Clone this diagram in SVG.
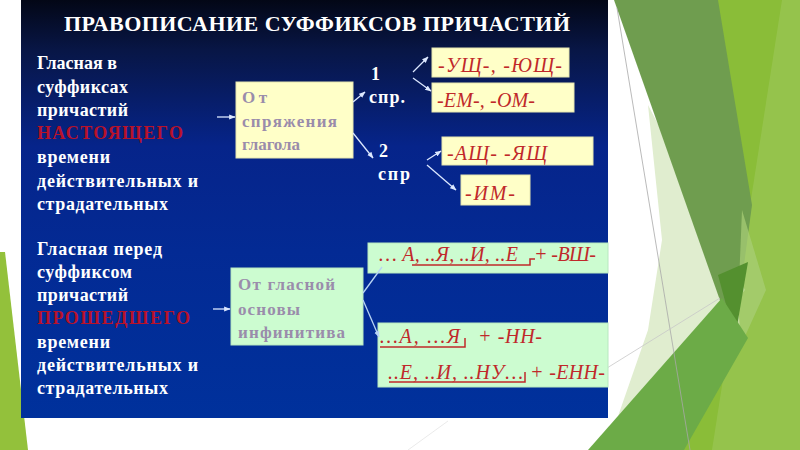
<svg xmlns="http://www.w3.org/2000/svg" width="800" height="450" viewBox="0 0 800 450">
<defs>
<linearGradient id="bg" x1="0" y1="0" x2="0" y2="1">
<stop offset="0" stop-color="#030716"/>
<stop offset="0.12" stop-color="#081646"/>
<stop offset="0.35" stop-color="#06248a"/>
<stop offset="0.6" stop-color="#032a94"/>
<stop offset="1" stop-color="#00319c"/>
</linearGradient>
<marker id="ah" viewBox="0 0 10 10" refX="9" refY="5" markerWidth="5" markerHeight="5" orient="auto">
<path d="M0,1 L10,5 L0,9 z" fill="#dce8ff"/>
</marker>
<marker id="ah2" viewBox="0 0 10 10" refX="9" refY="5" markerWidth="5" markerHeight="5" orient="auto">
<path d="M0,1 L10,5 L0,9 z" fill="#b8d4f4"/>
</marker>
<style>
text{font-family:"Liberation Serif","Times New Roman","DejaVu Serif","Noto Serif",serif}
.w{font-weight:bold;fill:#ffffff;font-size:18px}
.r{fill:#b8122a}
.g{font-weight:bold;fill:#9a8cab;font-size:17px}
.it{font-style:italic;fill:#c0282a;font-size:20px}
.yb{fill:#ffffc8;stroke:#e6e6b0;stroke-width:1}
.gb{fill:#ccfcd0;stroke:#b8e8c0;stroke-width:1}
.con line{stroke:#dce8ff;stroke-width:1.3;marker-end:url(#ah)}
.ul{fill:none;stroke:#c0282a;stroke-width:1.5}
</style>
</defs>
<rect width="800" height="450" fill="#ffffff"/>
<g id="decor">
<polygon points="0,252 5,252 28,450 0,450" fill="#93c13b"/>
<polygon points="716,0 800,0 800,450 682,450 740,330" fill="#8abd38"/>
<polygon points="782,0 800,0 800,450 712,450" fill="#ffffff" opacity="0.1"/>
<polygon points="648,105 745,290 608,445 648,330 662,240" fill="#e0edcf"/>
<polygon points="614,0 718,0 752,205 734,340" fill="#6f9d4f"/>
<polygon points="742,210 766,290 736,356" fill="#a9cf78" opacity="0.7"/>
<polygon points="718,275 748,262 735,338" fill="#54902f"/>
<polygon points="588,450 722,298 748,338 684,450" fill="#6cab47"/>
<line x1="617" y1="8" x2="690" y2="450" stroke="#a8a8a8" stroke-width="0.8"/>
<line x1="607" y1="368" x2="720" y2="298" stroke="#c8c8c8" stroke-width="0.8"/>
<line x1="408" y1="450" x2="448" y2="421" stroke="#e4e4e4" stroke-width="0.8"/>
</g>
<rect x="21" y="0" width="587" height="418" fill="url(#bg)"/>
<text x="64" y="31" font-weight="bold" font-size="22" fill="#ffffff" textLength="506">ПРАВОПИСАНИЕ СУФФИКСОВ ПРИЧАСТИЙ</text>
<g id="left-top" class="w">
<text x="37" y="69" textLength="80">Гласная в</text>
<text x="37" y="93" textLength="91">суффиксах</text>
<text x="37" y="116" textLength="91">причастий</text>
<text x="37" y="139" class="w r" textLength="146">НАСТОЯЩЕГО</text>
<text x="37" y="163" textLength="73">времени</text>
<text x="37" y="187" textLength="161">действительных и</text>
<text x="37" y="210" textLength="131">страдательных</text>
</g>
<g id="left-bottom" class="w">
<text x="37" y="255" textLength="125">Гласная перед</text>
<text x="37" y="278" textLength="95">суффиксом</text>
<text x="37" y="301" textLength="91">причастий</text>
<text x="37" y="324" class="w r" textLength="153">ПРОШЕДШЕГО</text>
<text x="37" y="348" textLength="73">времени</text>
<text x="37" y="371" textLength="161">действительных и</text>
<text x="37" y="394" textLength="131">страдательных</text>
</g>
<g id="n-conj">
<rect class="yb" x="236" y="82" width="117" height="76"/>
<text class="g" x="242" y="103" textLength="25">От</text>
<text class="g" x="242" y="127" textLength="95">спряжения</text>
<text class="g" x="242" y="150" textLength="58">глагола</text>
</g>
<g id="n-1spr">
<text class="w" x="371" y="80">1</text>
<text class="w" x="369" y="103" textLength="36">спр.</text>
</g>
<g id="n-2spr">
<text class="w" x="379" y="157">2</text>
<text class="w" x="378" y="180" textLength="32">спр</text>
</g>
<g id="n-ush">
<rect class="yb" x="432" y="48" width="137" height="29"/>
<text class="it" x="438" y="72" textLength="124">-УЩ-, -ЮЩ-</text>
</g>
<g id="n-em">
<rect class="yb" x="432" y="83" width="142" height="29"/>
<text class="it" x="437" y="107" textLength="98">-ЕМ-, -ОМ-</text>
</g>
<g id="n-ash">
<rect class="yb" x="442" y="137" width="151" height="28"/>
<text class="it" x="447" y="160" textLength="100">-АЩ-  -ЯЩ</text>
</g>
<g id="n-im">
<rect class="yb" x="461" y="175" width="69" height="30"/>
<text class="it" x="465" y="200" textLength="50">-ИМ-</text>
</g>
<g id="n-vowel">
<rect class="gb" x="231" y="268" width="132" height="77"/>
<text class="g" x="238" y="290" textLength="97">От гласной</text>
<text class="g" x="238" y="315" textLength="62">основы</text>
<text class="g" x="238" y="338" textLength="107">инфинитива</text>
</g>
<g id="n-vsh">
<rect class="gb" x="368" y="243" width="240" height="30"/>
<text class="it" x="379" y="261" textLength="139">… А, ..Я, ..И, ..Е</text>
<text class="it" x="534" y="261" textLength="62">+ -ВШ-</text>
<path class="ul" d="M412,265 H530 V259 H535"/>
</g>
<g id="n-nn">
<rect class="gb" x="378" y="323" width="230" height="64"/>
<text class="it" x="380" y="343" textLength="80">…А,  …Я</text>
<text class="it" x="478" y="343" textLength="64">+ -НН-</text>
<path class="ul" d="M380,347 H465 V338"/>
<text class="it" x="388" y="379" textLength="135">..Е, ..И,  ..НУ…</text>
<text class="it" x="530" y="379" textLength="75">+ -ЕНН-</text>
<path class="ul" d="M389,382 H525 V372"/>
</g>
<g id="connectors" class="con">
<line x1="217" y1="117" x2="235" y2="117"/>
<line x1="353" y1="102" x2="365" y2="92"/>
<line x1="353" y1="133" x2="373" y2="158"/>
<line x1="413" y1="72" x2="428" y2="57"/>
<line x1="413" y1="78" x2="431" y2="91"/>
<line x1="427" y1="160" x2="441" y2="151"/>
<line x1="427" y1="165" x2="456" y2="190"/>
<line x1="213" y1="309" x2="230" y2="309"/>
<line x1="363" y1="293" x2="382" y2="267" style="stroke:#b8d4f4;marker-end:none"/>
<line x1="363" y1="300" x2="379" y2="337" style="stroke:#b8d4f4;marker-end:url(#ah2)"/>
</g>
</svg>
